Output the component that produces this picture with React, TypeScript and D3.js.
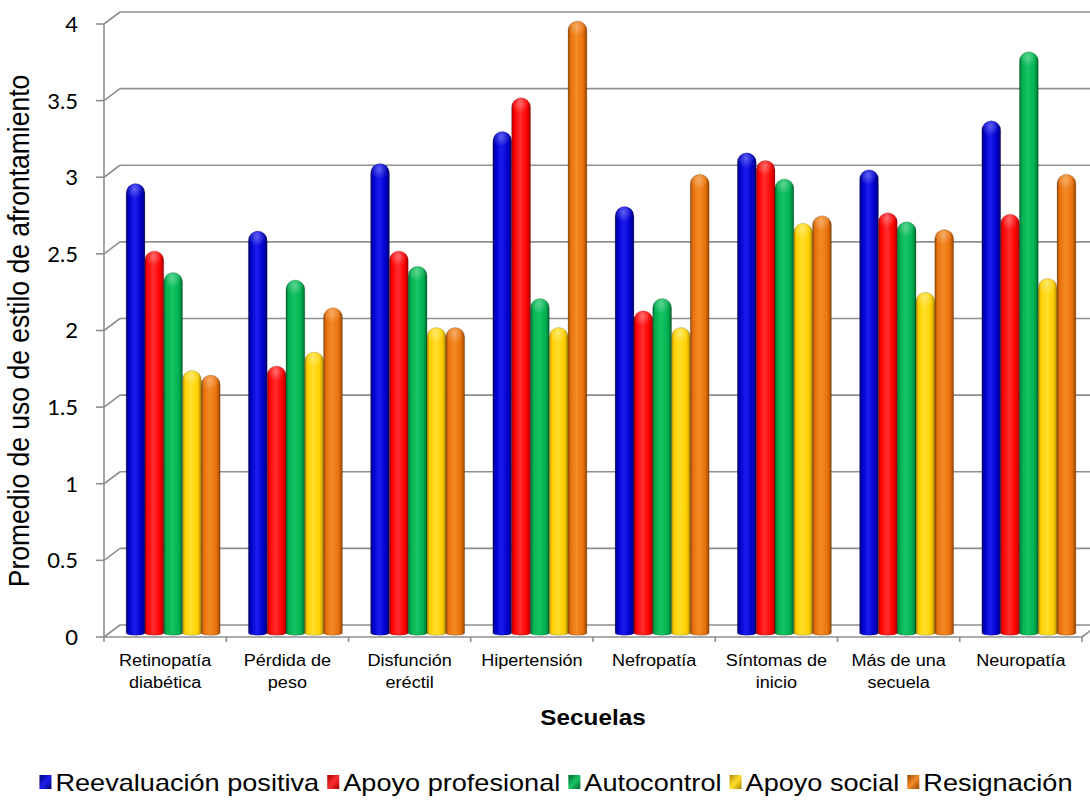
import React from "react";
import * as d3 from "d3";

// Categories (secuelas), split into label lines
const categories: string[][] = [
  ["Retinopatía", "diabética"],
  ["Pérdida de", "peso"],
  ["Disfunción", "eréctil"],
  ["Hipertensión"],
  ["Nefropatía"],
  ["Síntomas de", "inicio"],
  ["Más de una", "secuela"],
  ["Neuropatía"],
];

const seriesNames = [
  "Reevaluación positiva",
  "Apoyo profesional",
  "Autocontrol",
  "Apoyo social",
  "Resignación",
];

// Mean coping-style use per category
const reevaluacionPositiva = [2.92, 2.61, 3.05, 3.26, 2.77, 3.12, 3.01, 3.33];
const apoyoProfesional = [2.48, 1.73, 2.48, 3.48, 2.09, 3.07, 2.73, 2.72];
const autocontrol = [2.34, 2.29, 2.38, 2.17, 2.17, 2.95, 2.67, 3.78];
const apoyoSocial = [1.7, 1.82, 1.98, 1.98, 1.98, 2.66, 2.21, 2.3];
const resignacion = [1.67, 2.11, 1.98, 3.98, 2.98, 2.71, 2.62, 2.98];

const yTicks = [0, 0.5, 1, 1.5, 2, 2.5, 3, 3.5, 4];
const yTickLabels = ["0", "0.5", "1", "1.5", "2", "2.5", "3", "3.5", "4"];

const seriesValues = [reevaluacionPositiva, apoyoProfesional, autocontrol, apoyoSocial, resignacion];

// main / shadow / highlight tones for each cylinder colour
const palette = [
  { main: "#0000c8", dark: "#00006e", light: "#1c1cf0" },
  { main: "#ff0000", dark: "#a40000", light: "#ff2e2e" },
  { main: "#00b050", dark: "#00692f", light: "#18c464" },
  { main: "#ffd000", dark: "#b08a00", light: "#ffdf2a" },
  { main: "#e8710c", dark: "#984600", light: "#f38a26" },
];

const W = 1090;
const H = 804;
const DX = 16; // depth offset of the back wall
const DY = -12;
const STRETCH = 1.13;
const SANS = '"Liberation Sans", Arial, sans-serif';

function measure(text: string, font: string): number {
  const c = document.createElement("canvas").getContext("2d");
  if (!c) return text.length * 10;
  c.font = font;
  return c.measureText(text).width;
}

export default function App() {
  const x = d3.scaleBand<number>().domain(d3.range(categories.length)).range([104, 1082]).paddingInner(0).paddingOuter(0);
  const y = d3.scaleLinear().domain([0, 4]).range([637, 24]);
  const groupW = 94;
  const inner = d3.scaleBand<number>().domain(d3.range(seriesNames.length)).range([0, groupW]).padding(0);
  const barW = inner.bandwidth();
  const r = barW / 2;

  const xLeft = x.range()[0];
  const xRight = x.range()[1];

  const cylinder = (x0: number, top: number, bottom: number) => {
    const x1 = x0 + barW;
    const p = d3.path();
    p.moveTo(x0, bottom);
    p.lineTo(x0, top + r);
    p.arc(x0 + r, top + r, r, Math.PI, 2 * Math.PI);
    p.lineTo(x1, bottom);
    p.bezierCurveTo(x1, bottom + 3, x0, bottom + 3, x0, bottom);
    p.closePath();
    return p.toString();
  };

  // legend layout
  const legendFont = `24px ${SANS}`;
  const markerW = 12;
  const items = seriesNames.map((n) => measure(n, legendFont) * STRETCH);
  const itemGap = 8;
  const totalW = d3.sum(items) + seriesNames.length * (markerW + 4) + (seriesNames.length - 1) * itemGap;
  let lx = 556 - totalW / 2;
  const legendPos = items.map((w) => {
    const pos = lx;
    lx += markerW + 4 + w + itemGap;
    return pos;
  });

  return (
    <svg width={W} height={H} style={{ position: "absolute", left: 0, top: 0, background: "#fff" }}>
      <defs>
        {palette.map((c, i) => (
          <linearGradient key={i} id={`body${i}`} x1="0" x2="1" y1="0" y2="0">
            <stop offset="0" stopColor={c.dark} />
            <stop offset="0.14" stopColor={c.main} />
            <stop offset="0.45" stopColor={c.light} />
            <stop offset="0.8" stopColor={c.main} />
            <stop offset="1" stopColor={c.dark} />
          </linearGradient>
        ))}
        <radialGradient id="capShine" cx="0.45" cy="0.3" r="0.5">
          <stop offset="0" stopColor="#fff" stopOpacity="0.3" />
          <stop offset="1" stopColor="#fff" stopOpacity="0" />
        </radialGradient>
        {palette.map((c, i) => (
          <linearGradient key={i} id={`mk${i}`} x1="0" x2="1" y1="0" y2="1">
            <stop offset="0" stopColor={c.dark} />
            <stop offset="0.5" stopColor={c.light} />
            <stop offset="1" stopColor={c.dark} />
          </linearGradient>
        ))}
      </defs>

      {/* back wall gridlines with their depth diagonals */}
      {yTicks.map((t) => (
        <g key={t} stroke="#8f8f8f" strokeWidth={1.6} fill="none">
          <line x1={xLeft} y1={y(t)} x2={xLeft + DX} y2={y(t) + DY} />
          {t > 0 && <line x1={xLeft + DX} y1={y(t) + DY} x2={W} y2={y(t) + DY} />}
        </g>
      ))}

      {/* floor */}
      <g stroke="#8f8f8f" strokeWidth={1.6} fill="none">
        <line x1={xLeft + DX} y1={y(0) + DY} x2={W} y2={y(0) + DY} />
        <line x1={xLeft} y1={y(0)} x2={xRight} y2={y(0)} />
        <line x1={xRight} y1={y(0)} x2={xRight + DX} y2={y(0) + DY} />
        <line x1={xLeft} y1={y(0)} x2={xLeft} y2={y(4)} />
        {yTicks.map((t) => (
          <line key={t} x1={xLeft - 8} y1={y(t)} x2={xLeft} y2={y(t)} />
        ))}
        {d3.range(categories.length + 1).map((i) => {
          const cx = i < categories.length ? (x(i) as number) : xRight;
          return <line key={i} x1={cx} y1={y(0)} x2={cx} y2={y(0) + 5} />;
        })}
      </g>

      {/* cylinders */}
      {categories.map((_, ci) => {
        const gx = (x(ci) as number) + (x.bandwidth() - groupW) / 2 + DX / 2;
        return (
          <g key={ci}>
            {seriesValues.map((vals, si) => {
              const bx = gx + (inner(si) as number);
              const top = y(vals[ci]) + DY / 2;
              const bottom = y(0) - 4;
              return (
                <g key={si}>
                  <path d={cylinder(bx, top, bottom)} fill={`url(#body${si})`} stroke="rgba(0,0,0,0.25)" strokeWidth={0.7} />
                  <circle cx={bx + r} cy={top + r} r={r} fill="url(#capShine)" />
                </g>
              );
            })}
          </g>
        );
      })}

      {/* y tick labels */}
      {yTicks.map((t, i) => (
        <text key={t} x={78} y={y(t)} dy="0.36em" textAnchor="end" fontFamily="Lato, sans-serif" fontSize={22} fill="#000">
          {yTickLabels[i]}
        </text>
      ))}

      {/* y axis title */}
      <text transform={`translate(29,${331}) rotate(-90) scale(1,${STRETCH})`} textAnchor="middle" fontFamily={SANS} fontSize={26.5} fill="#000">
        Promedio de uso de estilo de afrontamiento
      </text>

      {/* category labels */}
      {categories.map((lines, ci) => {
        const cx = (x(ci) as number) + x.bandwidth() / 2;
        return lines.map((ln, li) => (
          <text key={`${ci}-${li}`} transform={`translate(${cx},${666 + li * 21.5}) scale(${STRETCH},1)`} textAnchor="middle" fontFamily={SANS} fontSize={16} fill="#000">
            {ln}
          </text>
        ));
      })}

      {/* x axis title */}
      <text transform={`translate(593,725) scale(${STRETCH},1)`} textAnchor="middle" fontFamily={SANS} fontSize={21.5} fontWeight="bold" fill="#000">
        Secuelas
      </text>

      {/* legend */}
      {seriesNames.map((n, i) => (
        <g key={n}>
          <rect x={legendPos[i]} y={775} width={markerW} height={14} fill={`url(#mk${i})`} />
          <text transform={`translate(${legendPos[i] + markerW + 4},791) scale(${STRETCH},1)`} fontFamily={SANS} fontSize={24} fill="#000">
            {n}
          </text>
        </g>
      ))}
    </svg>
  );
}
